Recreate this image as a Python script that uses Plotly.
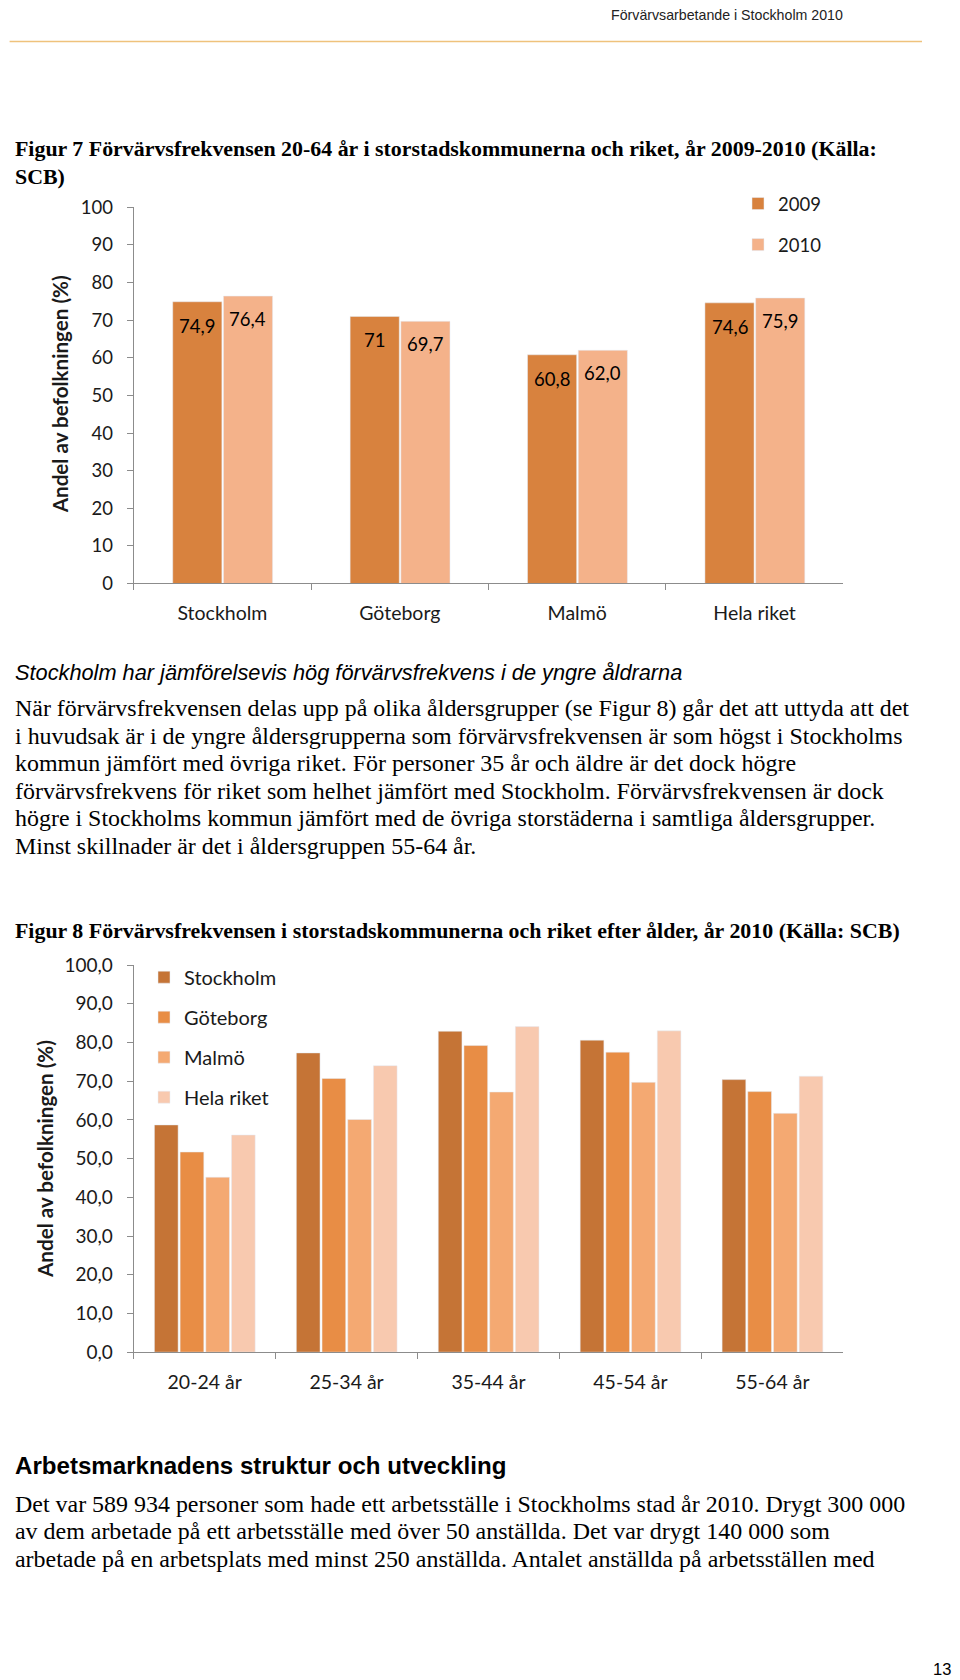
import plotly.graph_objects as go

# ---------------- Data: Figur 7 ----------------
cities = ["Stockholm", "Göteborg", "Malmö", "Hela riket"]
vals_2009 = [74.9, 71.0, 60.8, 74.6]
vals_2010 = [76.4, 69.7, 62.0, 75.9]
labels_2009 = ["74,9", "71", "60,8", "74,6"]
labels_2010 = ["76,4", "69,7", "62,0", "75,9"]
y1_ticks = [0, 10, 20, 30, 40, 50, 60, 70, 80, 90, 100]

# ---------------- Data: Figur 8 ----------------
age_groups = ["20-24 år", "25-34 år", "35-44 år", "45-54 år", "55-64 år"]
area_names = ["Stockholm", "Göteborg", "Malmö", "Hela riket"]
stockholm = [58.7, 77.3, 82.9, 80.6, 70.4]
goteborg = [51.7, 70.7, 79.2, 77.5, 67.3]
malmo = [45.2, 60.1, 67.2, 69.7, 61.7]
hela_riket = [56.1, 74.0, 84.1, 83.0, 71.3]
y2_ticks = [0, 10, 20, 30, 40, 50, 60, 70, 80, 90, 100]
y2_ticktext = ["0,0", "10,0", "20,0", "30,0", "40,0", "50,0", "60,0", "70,0", "80,0", "90,0", "100,0"]

# ---------------- Page text ----------------
header_text = "Förvärvsarbetande i Stockholm 2010"
fig7_title = ["Figur 7 Förvärvsfrekvensen 20-64 år i storstadskommunerna och riket, år 2009-2010 (Källa:",
              "SCB)"]
heading1 = "Stockholm har jämförelsevis hög förvärvsfrekvens i de yngre åldrarna"
para1 = [
    "När förvärvsfrekvensen delas upp på olika åldersgrupper (se Figur 8) går det att uttyda att det",
    "i huvudsak är i de yngre åldersgrupperna som förvärvsfrekvensen är som högst i Stockholms",
    "kommun jämfört med övriga riket. För personer 35 år och äldre är det dock högre",
    "förvärvsfrekvens för riket som helhet jämfört med Stockholm. Förvärvsfrekvensen är dock",
    "högre i Stockholms kommun jämfört med de övriga storstäderna i samtliga åldersgrupper.",
    "Minst skillnader är det i åldersgruppen 55-64 år.",
]
fig8_title = "Figur 8 Förvärvsfrekvensen i storstadskommunerna och riket efter ålder, år 2010 (Källa: SCB)"
heading2 = "Arbetsmarknadens struktur och utveckling"
para2 = [
    "Det var 589 934 personer som hade ett arbetsställe i Stockholms stad år 2010. Drygt 300 000",
    "av dem arbetade på ett arbetsställe med över 50 anställda. Det var drygt 140 000 som",
    "arbetade på en arbetsplats med minst 250 anställda. Antalet anställda på arbetsställen med",
]
page_number = "13"
ytitle = "Andel av befolkningen (%)"

W, H = 960, 1680
XOFF = 7.0


def px(x):
    return (x - XOFF) / W


def py(y):
    return 1 - ((y - 18.1) / 0.9893) / H


CHART_FONT = "Lato, Carlito, Calibri, sans-serif"
SERIF = "Liberation Serif, Times New Roman, serif"
SANS = "Liberation Sans, Arial, sans-serif"
AXIS_COLOR = "#8c8c8c"
TXT = "#1a1a1a"

fig = go.Figure()

# ---- Figur 7 bars ----
col7 = {"2009": "#D8823E", "2010": "#F4B28A"}
fig.add_trace(go.Bar(x=cities, y=vals_2009, name="2009", marker_color=col7["2009"],
                     width=0.277, offset=-0.28, xaxis="x", yaxis="y",
                     legend="legend", legendgroup="a2009"))
fig.add_trace(go.Bar(x=cities, y=vals_2010, name="2010", marker_color=col7["2010"],
                     width=0.277, offset=0.006, xaxis="x", yaxis="y",
                     legend="legend", legendgroup="a2010"))

# ---- Figur 8 bars ----
col8 = ["#C57436", "#E88D45", "#F4A972", "#F8C9AF"]
series8 = [stockholm, goteborg, malmo, hela_riket]
offs8 = [-0.354, -0.173, 0.008, 0.189]
for name, vals, c, o in zip(area_names, series8, col8, offs8):
    fig.add_trace(go.Bar(x=age_groups, y=vals, name=name, marker_color=c,
                         width=0.167, offset=o, xaxis="x2", yaxis="y2",
                         legend="legend2", legendgroup="b" + name))

annotations = []

# data labels figure 7
for c, v, t in zip(cities, vals_2009, labels_2009):
    annotations.append(dict(x=c, y=v, xref="x", yref="y", text=t, showarrow=False,
                            xshift=-25, yshift=-24, font=dict(family=CHART_FONT, size=18.5, color="#000")))
for c, v, t in zip(cities, vals_2010, labels_2010):
    annotations.append(dict(x=c, y=v, xref="x", yref="y", text=t, showarrow=False,
                            xshift=25.5, yshift=-23, font=dict(family=CHART_FONT, size=18.5, color="#000")))

# y axis titles
annotations.append(dict(x=px(58.5), y=py(394), xref="paper", yref="paper", text="<b>" + ytitle + "</b>",
                        textangle=-90, showarrow=False, xanchor="center", yanchor="middle",
                        font=dict(family=CHART_FONT, size=20.6, color=TXT)))
annotations.append(dict(x=px(44), y=py(1160.5), xref="paper", yref="paper", text="<b>" + ytitle + "</b>",
                        textangle=-90, showarrow=False, xanchor="center", yanchor="middle",
                        font=dict(family=CHART_FONT, size=20.6, color=TXT)))


def page_text(x, y, text, font, anchor="left"):
    annotations.append(dict(x=px(x), y=py(y), xref="paper", yref="paper", text=text,
                            showarrow=False, xanchor=anchor, yanchor="middle", align=anchor,
                            font=font))


page_text(843.5, 13.5, header_text, dict(family=SANS, size=14.2, color="#222"), anchor="right")
for i, line in enumerate(fig7_title):
    page_text(12, 146.8 + i * 27.8, "<b>" + line + "</b>", dict(family=SERIF, size=21.9, color="#000"))
page_text(12, 672.9, "<i>" + heading1 + "</i>", dict(family=SANS, size=21.75, color="#000"))
for i, line in enumerate(para1):
    page_text(12, 708.2 + i * 27.6, line, dict(family=SERIF, size=23.95, color="#000"))
page_text(12, 931, "<b>" + fig8_title + "</b>", dict(family=SERIF, size=21.9, color="#000"))
page_text(12, 1468, "<b>" + heading2 + "</b>", dict(family=SANS, size=24.1, color="#000"))
for i, line in enumerate(para2):
    page_text(12, 1506.5 + i * 27.4, line, dict(family=SERIF, size=23.95, color="#000"))
page_text(952, 1672, page_number, dict(family=SANS, size=16.5, color="#000"), anchor="right")

axis_common = dict(showline=True, linecolor=AXIS_COLOR, linewidth=1, showgrid=False, zeroline=False,
                   ticks="outside", ticklen=6, tickcolor=AXIS_COLOR, tickwidth=1)

fig.update_layout(
    width=W, height=H, margin=dict(l=0, r=0, t=0, b=0),
    paper_bgcolor="white", plot_bgcolor="white",
    barmode="overlay",
    xaxis=dict(domain=[px(132.7), px(842.3)], anchor="y", type="category", range=[-0.5, 3.5],
               tickson="boundaries", ticklabelstandoff=12,
               tickfont=dict(family=CHART_FONT, size=19.5, color=TXT), **axis_common),
    yaxis=dict(domain=[py(583.3), py(206)], anchor="x", range=[0, 100], tickvals=y1_ticks,
               ticklabelstandoff=10, tickfont=dict(family=CHART_FONT, size=18.5, color=TXT), **axis_common),
    xaxis2=dict(domain=[px(132.7), px(842.3)], anchor="y2", type="category", range=[-0.5, 4.5],
                tickson="boundaries", ticklabelstandoff=12,
                tickfont=dict(family=CHART_FONT, size=19.5, color=TXT), **axis_common),
    yaxis2=dict(domain=[py(1354.3), py(966)], anchor="x2", range=[0, 100], tickvals=y2_ticks,
                ticktext=y2_ticktext, ticklabelstandoff=10,
                tickfont=dict(family=CHART_FONT, size=19, color=TXT), **axis_common),
    legend=dict(x=px(737), y=py(183.6), xanchor="left", yanchor="top", bgcolor="rgba(0,0,0,0)",
                font=dict(family=CHART_FONT, size=18.5, color=TXT), tracegroupgap=14,
                itemclick=False, itemdoubleclick=False),
    legend2=dict(x=px(143), y=py(958.6), xanchor="left", yanchor="top", bgcolor="rgba(0,0,0,0)",
                 font=dict(family=CHART_FONT, size=20, color=TXT), tracegroupgap=11,
                 itemclick=False, itemdoubleclick=False),
    shapes=[dict(type="line", xref="paper", yref="paper", x0=px(8.6), x1=px(921), y0=py(39.6), y1=py(39.6),
                 line=dict(color="#EFC27C", width=1.5))],
    annotations=annotations,
    showlegend=True,
)

fig.write_html("out.html")
